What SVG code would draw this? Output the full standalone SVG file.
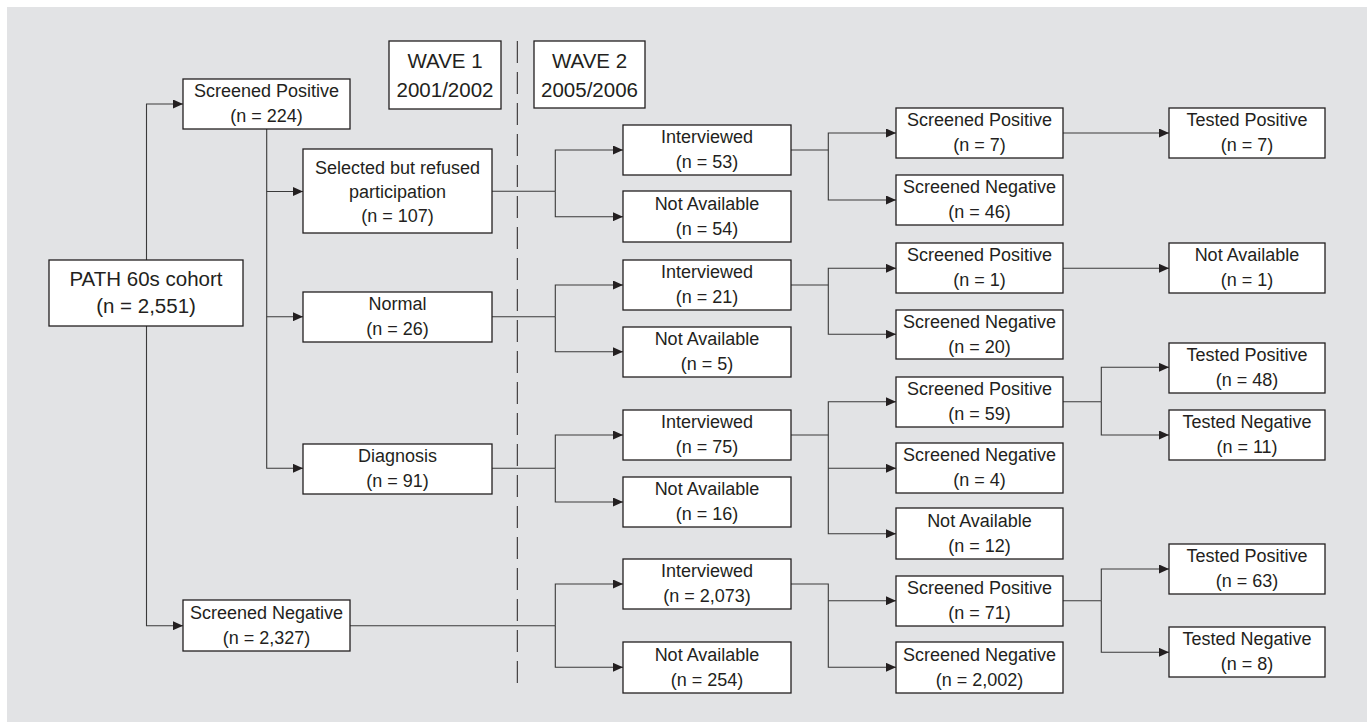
<svg xmlns="http://www.w3.org/2000/svg" width="1367" height="723" viewBox="0 0 1367 723">
<style>
.box{fill:#ffffff;stroke:#231f20;stroke-width:1.3}
.t{font-family:"Liberation Sans",Arial,sans-serif;font-size:18px;fill:#231f20;text-anchor:middle}
.tb{font-family:"Liberation Sans",Arial,sans-serif;font-size:20.5px;fill:#231f20;text-anchor:middle}
.c{fill:none;stroke:#3a3a3a;stroke-width:1.1}
.a{fill:none;stroke:#3a3a3a;stroke-width:1.1;marker-end:url(#arr)}
.dash{fill:none;stroke:#231f20;stroke-width:1;stroke-dasharray:22 9}
</style>
<defs>
<marker id="arr" markerUnits="userSpaceOnUse" markerWidth="10" markerHeight="9" refX="10" refY="4.5" orient="auto">
<path d="M0,0 L10,4.5 L0,9 z" fill="#231f20"/>
</marker>
</defs>
<rect x="7" y="7" width="1360" height="715" fill="#e2e3e5"/>
<line class="dash" x1="517.3" y1="41" x2="517.3" y2="688"/>
<g id="connectors">
<path class="a" d="M146.5,260 V104 H183"/>
<path class="a" d="M146.5,326 V625.7 H183"/>
<path class="a" d="M266.7,129 V468.3 H303"/>
<path class="a" d="M266.7,191.5 H303"/>
<path class="a" d="M266.7,316.7 H303"/>
<path class="c" d="M492,191.3 H555.3"/>
<path class="a" d="M555.3,191.3 V150 H623"/>
<path class="a" d="M555.3,191.3 V216.7 H623"/>
<path class="c" d="M791,150 H828.3"/>
<path class="a" d="M828.3,150 V133 H896"/>
<path class="a" d="M828.3,150 V200 H896"/>
<path class="a" d="M1063,133 H1169"/>
<path class="c" d="M492,316.7 H555.3"/>
<path class="a" d="M555.3,316.7 V285 H623"/>
<path class="a" d="M555.3,316.7 V351.7 H623"/>
<path class="c" d="M791,285 H828.3"/>
<path class="a" d="M828.3,285 V268.3 H896"/>
<path class="a" d="M828.3,285 V334.3 H896"/>
<path class="a" d="M1063,268.3 H1169"/>
<path class="c" d="M492,468.3 H555.3"/>
<path class="a" d="M555.3,468.3 V435 H623"/>
<path class="a" d="M555.3,468.3 V502 H623"/>
<path class="c" d="M791,435 H828.3"/>
<path class="a" d="M828.3,435 V401.7 H896"/>
<path class="a" d="M828.3,468.3 H896"/>
<path class="a" d="M828.3,435 V533.7 H896"/>
<path class="c" d="M1063,401.7 H1101.3"/>
<path class="a" d="M1101.3,401.7 V367.3 H1169"/>
<path class="a" d="M1101.3,401.7 V435 H1169"/>
<path class="c" d="M350,625.7 H555.3"/>
<path class="a" d="M555.3,625.7 V584 H623"/>
<path class="a" d="M555.3,625.7 V667.3 H623"/>
<path class="a" d="M791,584 H828.3 V667.3 H896"/>
<path class="a" d="M828.3,600.7 H896"/>
<path class="c" d="M1063,600.7 H1101.3"/>
<path class="a" d="M1101.3,600.7 V569 H1169"/>
<path class="a" d="M1101.3,600.7 V652.3 H1169"/>
</g>
<g id="path60s"><rect class="box" x="49" y="260" width="194" height="66"/><text class="tb" x="146" y="286">PATH 60s cohort</text><text class="tb" x="146" y="312.7">(n = 2,551)</text></g>
<g id="wave1"><rect class="box" x="389" y="41" width="112" height="68"/><text class="tb" x="445" y="68.3">WAVE 1</text><text class="tb" x="445" y="96.7">2001/2002</text></g>
<g id="wave2"><rect class="box" x="534" y="41" width="111" height="67"/><text class="tb" x="589.5" y="68.3">WAVE 2</text><text class="tb" x="589.5" y="96.7">2005/2006</text></g>
<g id="sp224"><rect class="box" x="183" y="79" width="167" height="50"/><text class="t" x="266.5" y="97">Screened Positive</text><text class="t" x="266.5" y="122">(n = 224)</text></g>
<g id="sn2327"><rect class="box" x="183" y="600" width="167" height="51"/><text class="t" x="266.5" y="618.7">Screened Negative</text><text class="t" x="266.5" y="643.7">(n = 2,327)</text></g>
<g id="selected"><rect class="box" x="303" y="149" width="189" height="84"/><text class="t" x="397.5" y="173.5">Selected but refused</text><text class="t" x="397.5" y="197.5">participation</text><text class="t" x="397.5" y="221.5">(n = 107)</text></g>
<g id="normal"><rect class="box" x="303" y="292" width="189" height="50"/><text class="t" x="397.5" y="310">Normal</text><text class="t" x="397.5" y="335">(n = 26)</text></g>
<g id="diagnosis"><rect class="box" x="303" y="444" width="189" height="50"/><text class="t" x="397.5" y="462">Diagnosis</text><text class="t" x="397.5" y="487">(n = 91)</text></g>
<g id="i53"><rect class="box" x="623" y="125" width="168" height="50"/><text class="t" x="707" y="143">Interviewed</text><text class="t" x="707" y="168">(n = 53)</text></g>
<g id="na54"><rect class="box" x="623" y="191" width="168" height="51"/><text class="t" x="707" y="209.5">Not Available</text><text class="t" x="707" y="234.5">(n = 54)</text></g>
<g id="i21"><rect class="box" x="623" y="260" width="168" height="50"/><text class="t" x="707" y="278">Interviewed</text><text class="t" x="707" y="303">(n = 21)</text></g>
<g id="na5"><rect class="box" x="623" y="327" width="168" height="50"/><text class="t" x="707" y="345">Not Available</text><text class="t" x="707" y="370">(n = 5)</text></g>
<g id="i75"><rect class="box" x="623" y="410" width="168" height="50"/><text class="t" x="707" y="428">Interviewed</text><text class="t" x="707" y="453">(n = 75)</text></g>
<g id="na16"><rect class="box" x="623" y="477" width="168" height="50"/><text class="t" x="707" y="495">Not Available</text><text class="t" x="707" y="520">(n = 16)</text></g>
<g id="i2073"><rect class="box" x="623" y="559" width="168" height="50"/><text class="t" x="707" y="577">Interviewed</text><text class="t" x="707" y="602">(n = 2,073)</text></g>
<g id="na254"><rect class="box" x="623" y="642" width="168" height="51"/><text class="t" x="707" y="660.5">Not Available</text><text class="t" x="707" y="685.5">(n = 254)</text></g>
<g id="sp7"><rect class="box" x="896" y="108" width="167" height="50"/><text class="t" x="979.5" y="126">Screened Positive</text><text class="t" x="979.5" y="151">(n = 7)</text></g>
<g id="sn46"><rect class="box" x="896" y="175" width="167" height="50"/><text class="t" x="979.5" y="193">Screened Negative</text><text class="t" x="979.5" y="218">(n = 46)</text></g>
<g id="sp1"><rect class="box" x="896" y="243" width="167" height="50"/><text class="t" x="979.5" y="261">Screened Positive</text><text class="t" x="979.5" y="286">(n = 1)</text></g>
<g id="sn20"><rect class="box" x="896" y="310" width="167" height="49"/><text class="t" x="979.5" y="327.5">Screened Negative</text><text class="t" x="979.5" y="352.5">(n = 20)</text></g>
<g id="sp59"><rect class="box" x="896" y="377" width="167" height="50"/><text class="t" x="979.5" y="395">Screened Positive</text><text class="t" x="979.5" y="420">(n = 59)</text></g>
<g id="sn4"><rect class="box" x="896" y="443" width="167" height="50"/><text class="t" x="979.5" y="461">Screened Negative</text><text class="t" x="979.5" y="486">(n = 4)</text></g>
<g id="na12"><rect class="box" x="896" y="508" width="167" height="51"/><text class="t" x="979.5" y="526.5">Not Available</text><text class="t" x="979.5" y="551.5">(n = 12)</text></g>
<g id="sp71"><rect class="box" x="896" y="576" width="167" height="50"/><text class="t" x="979.5" y="594">Screened Positive</text><text class="t" x="979.5" y="619">(n = 71)</text></g>
<g id="sn2002"><rect class="box" x="896" y="642" width="167" height="51"/><text class="t" x="979.5" y="660.5">Screened Negative</text><text class="t" x="979.5" y="685.5">(n = 2,002)</text></g>
<g id="tp7"><rect class="box" x="1169" y="108" width="156" height="50"/><text class="t" x="1247" y="126">Tested Positive</text><text class="t" x="1247" y="151">(n = 7)</text></g>
<g id="na1"><rect class="box" x="1169" y="243" width="156" height="50"/><text class="t" x="1247" y="261">Not Available</text><text class="t" x="1247" y="286">(n = 1)</text></g>
<g id="tp48"><rect class="box" x="1169" y="343" width="156" height="50"/><text class="t" x="1247" y="361">Tested Positive</text><text class="t" x="1247" y="386">(n = 48)</text></g>
<g id="tn11"><rect class="box" x="1169" y="410" width="156" height="50"/><text class="t" x="1247" y="428">Tested Negative</text><text class="t" x="1247" y="453">(n = 11)</text></g>
<g id="tp63"><rect class="box" x="1169" y="544" width="156" height="50"/><text class="t" x="1247" y="562">Tested Positive</text><text class="t" x="1247" y="587">(n = 63)</text></g>
<g id="tn8"><rect class="box" x="1169" y="627" width="156" height="50"/><text class="t" x="1247" y="645">Tested Negative</text><text class="t" x="1247" y="670">(n = 8)</text></g>
</svg>
